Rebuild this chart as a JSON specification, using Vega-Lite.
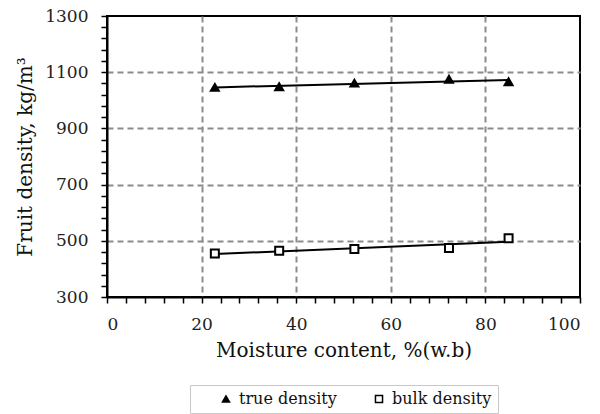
{
  "$schema": "https://vega.github.io/schema/vega-lite/v6.json",
  "autosize": {"type": "none"},
  "width": 473,
  "height": 281,
  "padding": {"left": 107, "top": 16, "right": 20, "bottom": 117},
  "background": "white",
  "data": {"values": [
    {"mc": 22.8, "density": 1046, "series": "true density"},
    {"mc": 36.4, "density": 1048, "series": "true density"},
    {"mc": 52.3, "density": 1061, "series": "true density"},
    {"mc": 72.3, "density": 1075, "series": "true density"},
    {"mc": 84.9, "density": 1066, "series": "true density"},
    {"mc": 22.8, "density": 455, "series": "bulk density"},
    {"mc": 36.4, "density": 465, "series": "bulk density"},
    {"mc": 52.3, "density": 471, "series": "bulk density"},
    {"mc": 72.3, "density": 474, "series": "bulk density"},
    {"mc": 84.9, "density": 509, "series": "bulk density"}
  ]},
  "encoding": {
    "x": {
      "field": "mc", "type": "quantitative",
      "scale": {"domain": [0, 100], "nice": false, "zero": false},
      "title": "Moisture content, %(w.b)",
      "axis": {
        "values": [0,4,8,12,16,20,24,28,32,36,40,44,48,52,56,60,64,68,72,76,80,84,88,92,96,100],
        "labelExpr": "datum.value % 20 === 0 ? datum.label : ''",
        "labelOverlap": false,
        "ticks": true,
        "tickSize": 6,
        "encode": {
          "ticks": {
            "y": {"signal": "datum.value % 20 === 0 ? -5 : 0"},
            "y2": {"signal": "datum.value % 20 === 0 ? 6 : -5"}
          }
        },
        "gridOpacity": {"condition": {"test": "datum.value % 20 === 0 && datum.value > 0 && datum.value < 100", "value": 1}, "value": 0},
        "labelPadding": 13,
        "titlePadding": 8
      }
    },
    "y": {
      "field": "density", "type": "quantitative",
      "scale": {"domain": [300, 1300], "nice": false, "zero": false},
      "title": "Fruit density, kg/m³",
      "axis": {
        "values": [300,340,380,420,460,500,540,580,620,660,700,740,780,820,860,900,940,980,1020,1060,1100,1140,1180,1220,1260,1300],
        "format": "d",
        "labelExpr": "(datum.value - 300) % 200 === 0 ? datum.label : ''",
        "labelOverlap": false,
        "ticks": true,
        "tickSize": 6,
        "encode": {
          "ticks": {
            "x": {"signal": "(datum.value - 300) % 200 === 0 ? 5 : 0"},
            "x2": {"signal": "(datum.value - 300) % 200 === 0 ? -6 : 5"}
          }
        },
        "gridOpacity": {"condition": {"test": "(datum.value - 300) % 200 === 0 && datum.value > 300 && datum.value < 1300", "value": 1}, "value": 0},
        "labelPadding": 13,
        "titlePadding": 9
      }
    }
  },
  "layer": [
    {
      "transform": [{"regression": "density", "on": "mc", "groupby": ["series"]}],
      "mark": {"type": "line", "color": "black", "strokeWidth": 2},
      "encoding": {
        "detail": {"field": "series"}
      }
    },
    {
      "mark": {"type": "point", "stroke": "black", "strokeWidth": 2, "opacity": 1, "size": 64},
      "encoding": {
        "shape": {
          "field": "series", "type": "nominal",
          "scale": {"domain": ["true density", "bulk density"], "range": ["triangle-up", "square"]},
          "legend": {"title": null, "orient": "none", "direction": "horizontal", "legendX": 83, "legendY": 369,
            "encode": {"symbols": {"stroke": {"value": "black"}, "strokeWidth": {"value": 1.3}}}}
        },
        "fill": {
          "field": "series", "type": "nominal",
          "scale": {"domain": ["true density", "bulk density"], "range": ["black", "white"]},
          "legend": {"title": null, "orient": "none", "direction": "horizontal", "legendX": 83, "legendY": 369,
            "encode": {"symbols": {"stroke": {"value": "black"}, "strokeWidth": {"value": 1.3}}}}
        }
      }
    }
  ],
  "config": {
    "font": "DejaVu Serif",
    "view": {"stroke": "black", "strokeWidth": 2},
    "axis": {
      "domainColor": "black",
      "domainWidth": 2,
      "tickColor": "black",
      "tickWidth": 1.5,
      "grid": true,
      "gridColor": "#8c8c8c",
      "gridDash": [6, 4],
      "gridWidth": 2,
      "labelFont": "DejaVu Serif",
      "labelFontSize": 17,
      "labelColor": "#222",
      "titleFont": "DejaVu Serif",
      "titleFontSize": 20,
      "titleFontWeight": "normal",
      "titleColor": "#111"
    },
    "legend": {
      "strokeColor": "#c8c8c8",
      "padding": 6,
      "labelFont": "DejaVu Serif",
      "labelFontSize": 16,
      "labelColor": "#111",
      "symbolSize": 50,
      "symbolOffset": 22,
      "labelOffset": 5,
      "columnPadding": 12
    }
  }
}
